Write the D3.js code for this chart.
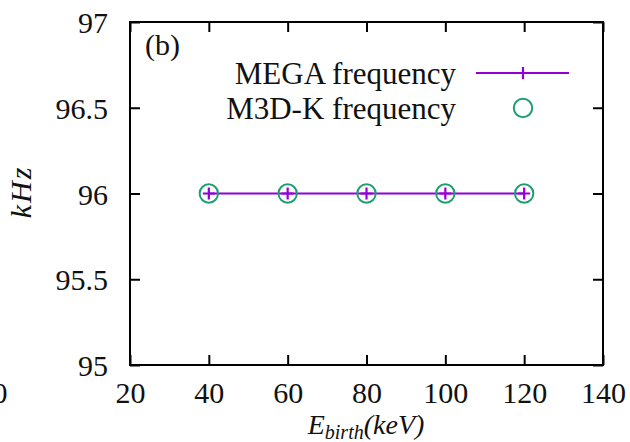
<!DOCTYPE html>
<html><head><meta charset="utf-8">
<script src="https://cdn.jsdelivr.net/npm/d3@7"></script>
<style>body{margin:0;background:#fff}svg{display:block}text{font-family:"Liberation Serif","Times New Roman","DejaVu Serif",serif;fill:#111}</style>
</head><body><svg id="c" width="630" height="442"></svg>
<script>
const energies = [40, 60, 80, 100, 120];
const megaFreq = [96, 96, 96, 96, 96];
const m3dkFreq = [96, 96, 96, 96, 96];
const xTicks = [20, 40, 60, 80, 100, 120, 140];
const yTicks = [95, 95.5, 96, 96.5, 97];
const seriesNames = ["MEGA frequency", "M3D-K frequency"];
const colors = ["#9400d3", "#1f9e76"];
const FF = '"Liberation Serif","Times New Roman","DejaVu Serif",serif';

const svg = d3.select("#c");
const L = 130, R = 603, T = 22, B = 365;
const x = d3.scaleLinear().domain([20, 140]).range([L, R]);
const y = d3.scaleLinear().domain([95, 97]).range([B, T]);
const tk = 10;

const axB = d3.axisBottom(x).tickValues(xTicks).tickSize(-tk).tickFormat(d3.format("d"));
const axT = d3.axisTop(x).tickValues(xTicks).tickSize(-tk).tickFormat("");
const axL = d3.axisLeft(y).tickValues(yTicks).tickSize(-tk).tickFormat(d => d);
const axR = d3.axisRight(y).tickValues(yTicks).tickSize(-tk).tickFormat("");
function style(g){ g.attr("font-family", FF); g.select(".domain").remove(); g.selectAll("line").attr("stroke","#000").attr("stroke-width",2); g.selectAll("text").style("font-family",FF).style("font-size","30px").attr("fill","#111"); }
const gB = svg.append("g").attr("transform",`translate(0,${B})`).call(axB).call(style);
gB.selectAll("text").attr("dy",null).attr("y",38);
svg.append("g").attr("transform",`translate(0,${T})`).call(axT).call(style);
const gL = svg.append("g").attr("transform",`translate(${L},0)`).call(axL).call(style);
gL.selectAll("text").attr("x",-22).attr("dy","0.35em");
svg.append("g").attr("transform",`translate(${R},0)`).call(axR).call(style);

svg.append("rect").attr("x",L).attr("y",T).attr("width",R-L).attr("height",B-T).attr("fill","none").attr("stroke","#000").attr("stroke-width",2);

// cut-off label from neighbouring panel
svg.append("text").attr("x",0).attr("y",403).attr("text-anchor","middle").style("font-size","30px").text("0");

svg.append("text").attr("x",145).attr("y",55).style("font-size","30px").text("(b)");

const data = energies.map((e,i)=>({e, m:megaFreq[i], k:m3dkFreq[i]}));
svg.append("path").datum(data).attr("fill","none").attr("stroke",colors[0]).attr("stroke-width",2.2)
  .attr("d", d3.line().x(d=>x(d.e)).y(d=>y(d.m)));
function drawPlus(g, cx, cy){
  g.append("path").attr("d",`M${cx-6},${cy}H${cx+6}M${cx},${cy-6}V${cy+6}`).attr("stroke",colors[0]).attr("stroke-width",2.2).attr("fill","none");
}
data.forEach(d=>drawPlus(svg, x(d.e), y(d.m)));
svg.selectAll("circle.k").data(data).enter().append("circle").attr("class","k")
  .attr("cx",d=>x(d.e)).attr("cy",d=>y(d.k)).attr("r",9.2)
  .attr("fill","none").attr("stroke",colors[1]).attr("stroke-width",2);

const lg = svg.append("g");
lg.append("text").attr("x",456).attr("y",84).attr("text-anchor","end").style("font-size","31px").text(seriesNames[0]);
lg.append("text").attr("x",456).attr("y",119).attr("text-anchor","end").style("font-size","31px").text(seriesNames[1]);
lg.append("line").attr("x1",476).attr("x2",569).attr("y1",73).attr("y2",73).attr("stroke",colors[0]).attr("stroke-width",2.2);
drawPlus(lg, 523, 73);
lg.append("circle").attr("cx",523).attr("cy",108).attr("r",9.2).attr("fill","none").attr("stroke",colors[1]).attr("stroke-width",2);

svg.append("text").attr("transform","translate(31,192) rotate(-90)").attr("text-anchor","middle")
  .style("font-size","30px").style("font-style","italic").style("letter-spacing","2px").text("kHz");
const xl = svg.append("text").attr("x",366).attr("y",434).attr("text-anchor","middle").style("font-size","28px").style("font-style","italic");
xl.append("tspan").text("E");
xl.append("tspan").attr("dy",5).style("font-size","20px").text("birth");
xl.append("tspan").attr("dy",-5).text("(keV)");
</script></body></html>
